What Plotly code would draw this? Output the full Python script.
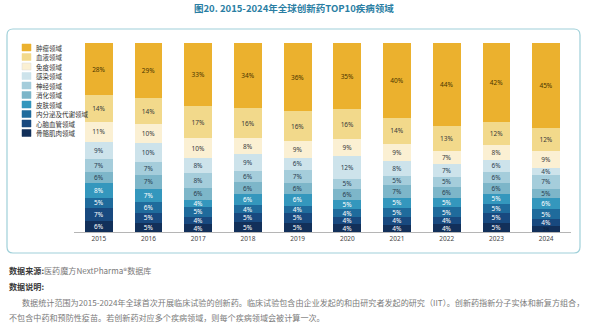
import plotly.graph_objects as go

years = ["2015", "2016", "2017", "2018", "2019", "2020", "2021", "2022", "2023", "2024"]

# series listed from bottom of stack to top
series_names = ["骨骼肌肉领域", "心脑血管领域", "内分泌及代谢领域", "皮肤领域", "消化领域",
                "神经领域", "感染领域", "免疫领域", "血液领域", "肿瘤领域"]
musculoskeletal = [6, 5, 4, 5, 5, 4, 4, 4, 5, 3]
cardio = [7, 5, 4, 5, 5, 4, 4, 4, 5, 4]
endocrine = [5, 6, 5, 4, 4, 4, 5, 5, 5, 5]
skin = [8, 7, 4, 6, 6, 5, 5, 5, 5, 6]
digestive = [6, 7, 6, 6, 6, 6, 7, 6, 6, 5]
neuro = [7, 7, 8, 6, 7, 5, 5, 5, 6, 7]
infection = [9, 10, 8, 9, 6, 12, 8, 7, 6, 4]
immune = [11, 10, 10, 8, 9, 9, 9, 7, 8, 9]
blood = [14, 14, 17, 16, 16, 16, 14, 13, 12, 12]
oncology = [28, 29, 33, 34, 36, 35, 40, 44, 42, 45]
series_values = [musculoskeletal, cardio, endocrine, skin, digestive,
                 neuro, infection, immune, blood, oncology]

colors = ["#12305a", "#18497f", "#1f6b9c", "#3497bd", "#7db6c9",
          "#a5cddb", "#cde3eb", "#fbf0d3", "#f2d98b", "#ebb12e"]
text_colors = ["#ffffff", "#ffffff", "#ffffff", "#ffffff", "#2c3e50",
               "#2c3e50", "#2c3e50", "#3a3a3a", "#3a3a3a", "#4a3500"]

fig = go.Figure()
for name, vals, col, tcol in zip(series_names, series_values, colors, text_colors):
    fig.add_trace(go.Bar(
        x=years, y=vals, name=name,
        marker=dict(color=col, line=dict(width=0)),
        text=[f"{v}%" for v in vals],
        textposition="inside", insidetextanchor="middle",
        constraintext="none",
        textfont=dict(size=[4.8 if v <= 3 else 6.5 for v in vals],
                      color=["#0b1f3a" if v <= 3 else tcol for v in vals],
                      family="Noto Sans, Open Sans, sans-serif"),
        hoverinfo="skip",
        showlegend=False,
    ))

# manual compact legend (top item = top of stack)
shapes = []
annotations = []
leg_top = 47.5
leg_step = 9.5
W, H = 589, 329
for i, (name, col) in enumerate(zip(series_names[::-1], colors[::-1])):
    yc = leg_top + i * leg_step
    shapes.append(dict(type="rect", xref="paper", yref="paper",
                       x0=(22 - 74) / 497, x1=(31 - 74) / 497,
                       y0=(232 - (yc + 3.5)) / 189, y1=(232 - (yc - 3.5)) / 189,
                       fillcolor=col, line=dict(width=0.5, color="#d8d8d8" if i == 2 else col)))
    annotations.append(dict(xref="paper", yref="paper", x=(34 - 74) / 497,
                            y=(232 - yc) / 189, text=name, showarrow=False,
                            xanchor="left", yanchor="middle",
                            font=dict(size=6.5, color="#333333", family="Noto Sans CJK SC")))

# rounded frame
x0, x1, y0, y1, r = 7, 580, 29, 253, 6
def px(x):
    return (x - 74) / 497
def py(y):
    return (232 - y) / 189
path = (f"M {px(x0 + r)},{py(y0)} L {px(x1 - r)},{py(y0)} "
        f"Q {px(x1)},{py(y0)} {px(x1)},{py(y0 + r)} L {px(x1)},{py(y1 - r)} "
        f"Q {px(x1)},{py(y1)} {px(x1 - r)},{py(y1)} L {px(x0 + r)},{py(y1)} "
        f"Q {px(x0)},{py(y1)} {px(x0)},{py(y1 - r)} L {px(x0)},{py(y0 + r)} "
        f"Q {px(x0)},{py(y0)} {px(x0 + r)},{py(y0)} Z")
shapes.append(dict(type="path", xref="paper", yref="paper", path=path,
                   line=dict(color="#9fd0d9", width=1.2), layer="below"))

# title
annotations.append(dict(xref="paper", yref="paper", x=px(294), y=py(8),
                        text="<b>图20. 2015-2024年全球创新药TOP10疾病领域</b>",
                        showarrow=False, xanchor="center", yanchor="middle",
                        font=dict(size=9.5, color="#2a7ea3", family="Noto Sans CJK SC")))

# footnotes
foot_font = dict(size=8.1, color="#7a7a7a", family="Noto Sans CJK SC")
annotations.append(dict(xref="paper", yref="paper", x=px(7), y=py(270),
                        text="<b><span style='color:#3a3a3a'>数据来源:</span></b>医药魔方NextPharma®数据库",
                        showarrow=False, xanchor="left", yanchor="middle", font=foot_font))
annotations.append(dict(xref="paper", yref="paper", x=px(7), y=py(286),
                        text="<b><span style='color:#3a3a3a'>数据说明:</span></b>",
                        showarrow=False, xanchor="left", yanchor="middle", font=foot_font))
annotations.append(dict(xref="paper", yref="paper", x=px(20), y=py(302),
                        text="数据统计范围为2015-2024年全球首次开展临床试验的创新药。临床试验包含由企业发起的和由研究者发起的研究（IIT）。创新药指新分子实体和新复方组合，",
                        showarrow=False, xanchor="left", yanchor="middle", font=foot_font))
annotations.append(dict(xref="paper", yref="paper", x=px(7), y=py(317),
                        text="不包含中药和预防性疫苗。若创新药对应多个疾病领域，则每个疾病领域会被计算一次。",
                        showarrow=False, xanchor="left", yanchor="middle", font=foot_font))

fig.update_layout(
    width=W, height=H,
    margin=dict(l=74, r=W - 571, t=43, b=H - 232),
    barmode="stack", barnorm="percent", bargap=0.44,
    paper_bgcolor="white", plot_bgcolor="white",
    shapes=shapes, annotations=annotations,
    xaxis=dict(type="category", showgrid=False, showline=True, linecolor="#b5b5b5",
               linewidth=1, ticks="", tickfont=dict(size=6.5, color="#444444",
               family="Noto Sans, Open Sans, sans-serif"), ticklabelstandoff=0,
               fixedrange=True),
    yaxis=dict(range=[0, 100], visible=False, fixedrange=True),
    font=dict(family="Noto Sans CJK SC"),
)
fig.write_html("out.html")
